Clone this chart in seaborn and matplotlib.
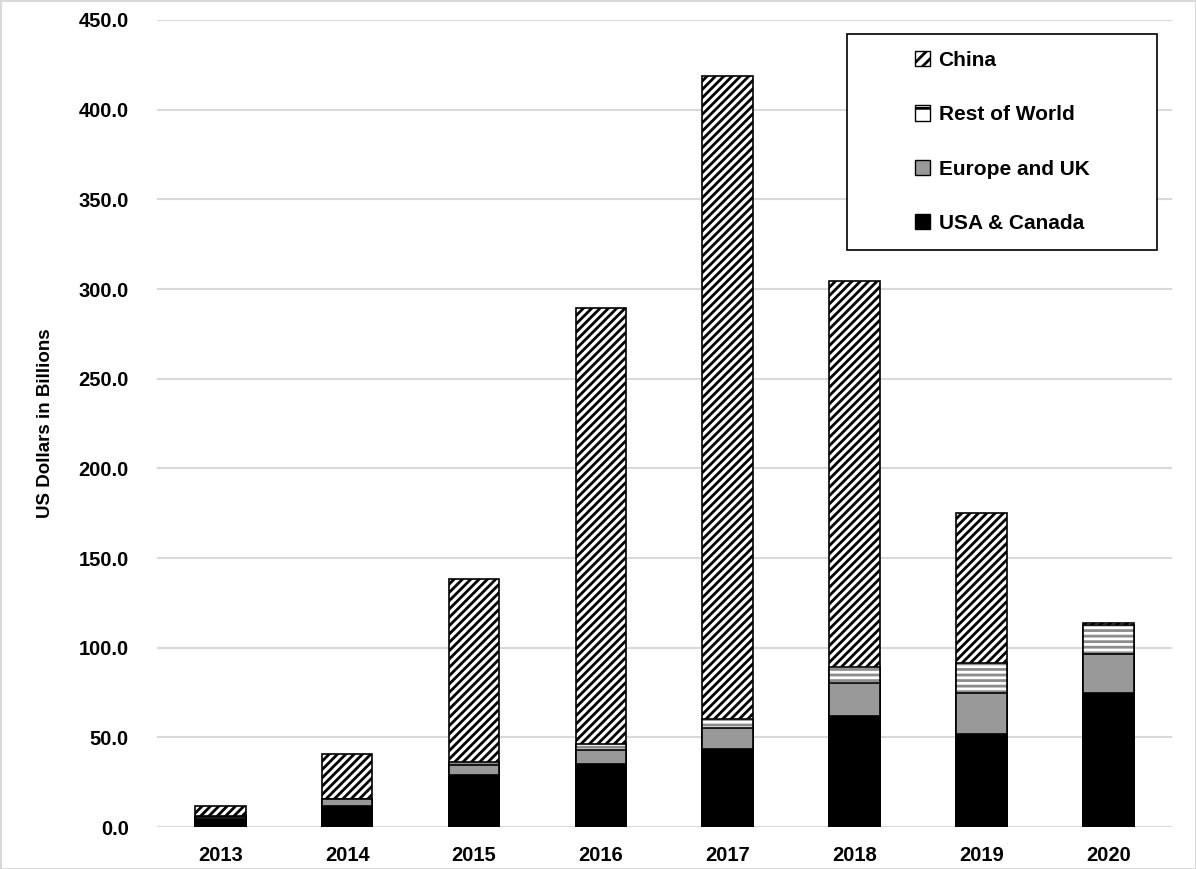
import matplotlib
matplotlib.use('Agg')
import matplotlib.pyplot as plt
from matplotlib.patches import Patch, Rectangle
import seaborn as sns
import numpy as np

years = ['2013', '2014', '2015', '2016', '2017', '2018', '2019', '2020']
usa_canada = [4.7, 11.7, 29.0, 35.1, 43.5, 62.1, 52.0, 74.5]
europe_uk = [1.0, 3.7, 5.6, 7.8, 11.5, 18.0, 22.9, 21.8]
rest_of_world = [0.5, 0.4, 1.5, 3.2, 5.0, 8.9, 16.4, 16.2]
china = [5.7, 24.7, 102.2, 243.3, 358.8, 215.5, 83.8, 1.3]

sns.set_theme(style='white', rc={'text.color': 'black', 'axes.labelcolor': 'black',
                                 'xtick.color': 'black', 'ytick.color': 'black'})
plt.rcParams['font.family'] = ['Liberation Sans', 'DejaVu Sans']
plt.rcParams['font.weight'] = 'bold'
plt.rcParams['hatch.linewidth'] = 2.0

# cumulative heights, drawn from the top layer down
c_usa = np.array(usa_canada)
c_eu = c_usa + np.array(europe_uk)
c_row = c_eu + np.array(rest_of_world)
c_china = c_row + np.array(china)

fig = plt.figure(figsize=(11.96, 8.69), dpi=100)
fig.patch.set_edgecolor('#d9d9d9')
fig.patch.set_linewidth(2)
ax = fig.add_axes([0.131, 0.0483, 0.849, 0.9287])

W = 0.4
sns.barplot(x=years, y=c_china, color='white', edgecolor='black', hatch='////',
            linewidth=1.2, width=W, saturation=1, errorbar=None, ax=ax, zorder=3)
sns.barplot(x=years, y=c_row, color='white', edgecolor='#8c8c8c', hatch='---',
            linewidth=0, width=W, saturation=1, errorbar=None, ax=ax, zorder=3)
sns.barplot(x=years, y=c_row, color='black', fill=False, linewidth=1.2,
            width=W, errorbar=None, ax=ax, zorder=3)
sns.barplot(x=years, y=c_eu, color='#999999', edgecolor='black',
            linewidth=1.2, width=W, saturation=1, errorbar=None, ax=ax, zorder=3)
sns.barplot(x=years, y=c_usa, color='black', edgecolor='black',
            linewidth=1.2, width=W, saturation=1, errorbar=None, ax=ax, zorder=3)

ax.set_ylim(0, 450)
ax.set_xlim(-0.5, len(years) - 0.5)
ax.set_yticks(np.arange(0, 451, 50))
ax.set_yticklabels([f'{v:.1f}' for v in np.arange(0, 451, 50)], fontsize=14.5, fontweight='bold')
ax.set_xticklabels(years, fontsize=14.5, fontweight='bold')
ax.yaxis.grid(True, color='#d9d9d9', linewidth=1.5, zorder=0)
ax.set_axisbelow(True)
ax.tick_params(axis='y', length=0, pad=20)
ax.tick_params(axis='x', length=0, pad=14)
for s in ax.spines.values():
    s.set_visible(False)
ax.set_xlabel('')
ax.set_ylabel('US Dollars in Billions', fontsize=13.5, fontweight='bold', labelpad=18)

# legend box
ax.add_patch(Rectangle((0.68, 0.715), 0.305, 0.268, transform=ax.transAxes,
                       facecolor='white', edgecolor='black', linewidth=1.2,
                       zorder=5, clip_on=False))
handles = [
    Patch(facecolor='white', edgecolor='black', hatch='///', label='China'),
    Patch(facecolor='white', edgecolor='black', hatch='-', label='Rest of World'),
    Patch(facecolor='#999999', edgecolor='black', label='Europe and UK'),
    Patch(facecolor='black', edgecolor='black', label='USA & Canada'),
]
leg = ax.legend(handles=handles, loc='center', bbox_to_anchor=(0.8325, 0.849),
                frameon=False, handlelength=0.75, handleheight=0.75,
                handletextpad=0.4, labelspacing=1.7, labelcolor='black',
                prop={'weight': 'bold', 'size': 15})
leg.set_zorder(6)

fig.savefig('out.png', dpi=100, edgecolor=fig.get_edgecolor())
